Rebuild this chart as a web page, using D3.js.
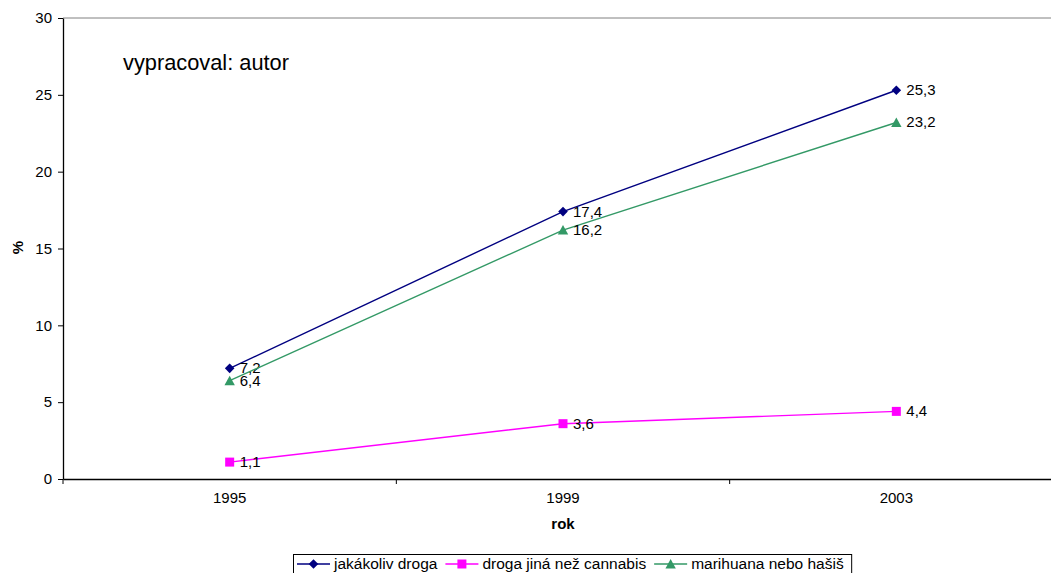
<!DOCTYPE html>
<html>
<head>
<meta charset="utf-8">
<script src="https://cdn.jsdelivr.net/npm/d3@7"></script>
<style>
  body { margin: 0; background: #fff; }
  svg { font-family: "Liberation Sans", Arial, sans-serif; }
</style>
</head>
<body>
<div id="chart"></div>
<script>
// data
const years = ["1995", "1999", "2003"];
const anyDrug = [7.2, 17.4, 25.3];
const otherDrug = [1.1, 3.6, 4.4];
const cannabis = [6.4, 16.2, 23.2];
const yTicks = [0, 5, 10, 15, 20, 25, 30];

const series = [
  { name: "jakákoliv droga", values: anyDrug, color: "#000080", marker: "diamond" },
  { name: "droga jiná než cannabis", values: otherDrug, color: "#ff00ff", marker: "square" },
  { name: "marihuana nebo hašiš", values: cannabis, color: "#339966", marker: "triangle" }
];

const w = 1051, h = 573;
const plotLeft = 63, plotTop = 18, plotW = 1000, plotH = 461;
const fs = 15;

const svg = d3.select("#chart").append("svg")
    .attr("width", w)
    .attr("height", h);

const x = d3.scaleBand().domain(years).range([plotLeft, plotLeft + plotW]);
const y = d3.scaleLinear().domain([0, 30]).range([plotTop + plotH, plotTop]);

// plot border top
svg.append("line")
    .attr("x1", plotLeft).attr("x2", plotLeft + plotW)
    .attr("y1", plotTop).attr("y2", plotTop)
    .attr("stroke", "#808080");

// y axis
const yAxis = svg.append("g")
    .attr("transform", `translate(${plotLeft},0)`)
    .call(d3.axisLeft(y).tickValues(yTicks).tickSize(5).tickSizeOuter(0).tickPadding(6));
yAxis.select(".domain").attr("stroke", "#000").attr("stroke-width", 1.3);
yAxis.selectAll("text").attr("font-size", fs).attr("fill", "#000");

// x axis, ticks between categories
const xAxis = svg.append("g")
    .attr("transform", `translate(0,${plotTop + plotH})`)
    .call(d3.axisBottom(x).tickSize(0).tickPadding(13));
xAxis.select(".domain").attr("stroke", "#000").attr("stroke-width", 1.3);
xAxis.selectAll("text").attr("font-size", fs).attr("fill", "#000");

const bounds = [x.range()[0]].concat(years.map(d => x(d) + x.bandwidth()));
svg.append("g").selectAll("line")
    .data(bounds)
    .enter()
    .append("line")
    .attr("x1", d => d).attr("x2", d => d)
    .attr("y1", plotTop + plotH).attr("y2", plotTop + plotH + 5)
    .attr("stroke", "#000");

// axis titles
svg.append("text")
    .attr("x", x(years[1]) + x.bandwidth() / 2)
    .attr("y", 529)
    .attr("text-anchor", "middle")
    .attr("font-size", fs)
    .attr("font-weight", "bold")
    .text("rok");

svg.append("text")
    .attr("transform", `translate(23,${plotTop + plotH / 2 - 1}) rotate(-90)`)
    .attr("text-anchor", "middle")
    .attr("font-size", fs)
    .attr("font-weight", "bold")
    .text("%");

svg.append("text")
    .attr("x", 123)
    .attr("y", 70)
    .attr("font-size", 21.8)
    .text("vypracoval: autor");

const cx = d => x(d) + x.bandwidth() / 2;

const markerPath = {
  diamond: "M0,-4.8L4.8,0L0,4.8L-4.8,0Z",
  square: "M-4.5,-4.5H4.5V4.5H-4.5Z",
  triangle: "M0,-5L5.2,4.5H-5.2Z"
};

function drawMarker(g, m, color, px, py) {
  g.append("path")
      .attr("d", markerPath[m])
      .attr("transform", `translate(${px},${py})`)
      .attr("fill", color);
}

const line = d3.line();

series.forEach(s => {
  const pts = years.map((yr, i) => [cx(yr), y(s.values[i])]);
  svg.append("path")
      .attr("d", line(pts))
      .attr("fill", "none")
      .attr("stroke", s.color)
      .attr("stroke-width", 1.4);
  const g = svg.append("g");
  pts.forEach((p, i) => {
    drawMarker(g, s.marker, s.color, p[0], p[1]);
    g.append("text")
        .attr("x", p[0] + 10)
        .attr("y", p[1] + 5)
        .attr("font-size", fs)
        .text(String(s.values[i]).replace(".", ","));
  });
});

// legend
const legend = svg.append("g");
const lbox = legend.append("rect")
    .attr("x", 293.5).attr("y", 554.5)
    .attr("height", 22)
    .attr("fill", "#fff")
    .attr("stroke", "#000");

let lx = 297;
series.forEach(s => {
  legend.append("line")
      .attr("x1", lx).attr("x2", lx + 33)
      .attr("y1", 564).attr("y2", 564)
      .attr("stroke", s.color)
      .attr("stroke-width", 1.5);
  drawMarker(legend, s.marker, s.color, lx + 16.5, 564);
  const t = legend.append("text")
      .attr("x", lx + 37)
      .attr("y", 569)
      .attr("font-size", 15.5)
      .text(s.name);
  lx += 37 + t.node().getComputedTextLength() + 8;
});
lbox.attr("width", lx - 293.5);
</script>
</body>
</html>
